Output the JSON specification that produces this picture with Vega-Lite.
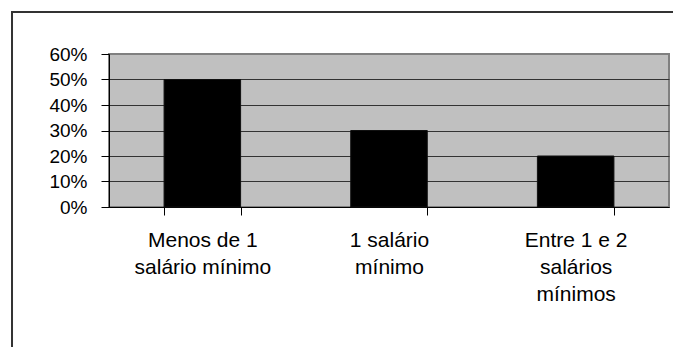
{
  "$schema": "https://vega.github.io/schema/vega-lite/v6.json",
  "padding": {"left": 11, "top": 11, "right": 0, "bottom": 0},
  "background": "white",
  "bounds": "flush",
  "spacing": 0,
  "config": {
    "font": "Liberation Sans",
    "view": {"stroke": null}
  },
  "hconcat": [
    {
      "width": 0.01,
      "height": 400,
      "data": {"values": []},
      "mark": {"type": "rule"},
      "encoding": {},
      "view": {"stroke": "#333333", "strokeWidth": 2, "fill": null}
    },
    {
      "bounds": "flush",
      "spacing": 41,
      "vconcat": [
        {
          "width": 700,
          "height": 0.01,
          "data": {"values": []},
          "mark": {"type": "rule"},
          "encoding": {},
          "view": {"stroke": "#333333", "strokeWidth": 2, "fill": null}
        },
        {
          "bounds": "flush",
          "spacing": 95,
          "hconcat": [
            {
              "width": 0.01,
              "height": 0.01,
              "data": {"values": []},
              "mark": {"type": "rule"},
              "encoding": {},
              "view": {"stroke": null, "fill": null}
            },
            {
              "width": 560,
              "height": 153,
              "data": {
                "values": [
                  {"faixa": "Menos de 1 salário mínimo", "percentual": 0.5},
                  {"faixa": "1 salário mínimo", "percentual": 0.3},
                  {"faixa": "Entre 1 e 2 salários mínimos", "percentual": 0.2}
                ]
              },
              "view": {"fill": "#C0C0C0", "stroke": "#808080", "strokeWidth": 2},
              "mark": {"type": "bar", "color": "#000000", "stroke": "#111111", "strokeWidth": 1},
              "encoding": {
                "x": {
                  "field": "faixa",
                  "type": "nominal",
                  "sort": null,
                  "scale": {"paddingInner": 0.59, "paddingOuter": 0.295},
                  "axis": {
                    "title": null,
                    "labelAngle": 0,
                    "tickBand": "extent",
                    "tickSize": 8,
                    "tickColor": "#000000",
                    "domainColor": "#000000",
                    "labelColor": "#000000",
                    "labelFont": "Liberation Sans",
                    "labelFontSize": 21,
                    "labelLineHeight": 27,
                    "labelPadding": 14,
                    "labelLimit": 300,
                    "labelExpr": "datum.value == 'Menos de 1 salário mínimo' ? ['Menos de 1', 'salário mínimo'] : datum.value == '1 salário mínimo' ? ['1 salário', 'mínimo'] : datum.value == 'Entre 1 e 2 salários mínimos' ? ['Entre 1 e 2', 'salários', 'mínimos'] : ''"
                  }
                },
                "y": {
                  "field": "percentual",
                  "type": "quantitative",
                  "scale": {"domain": [0, 0.6], "nice": false},
                  "axis": {
                    "title": null,
                    "format": ".0%",
                    "values": [0, 0.1, 0.2, 0.3, 0.4, 0.5, 0.6],
                    "tickSize": 8,
                    "tickColor": "#000000",
                    "domainColor": "#000000",
                    "labelColor": "#000000",
                    "labelFont": "Liberation Sans",
                    "labelFontSize": 19,
                    "labelPadding": 14,
                    "grid": true,
                    "gridColor": {"condition": {"test": "datum.value >= 0.6", "value": "#808080"}, "value": "#333333"},
                    "gridWidth": 1
                  }
                }
              }
            }
          ]
        }
      ]
    }
  ]
}
